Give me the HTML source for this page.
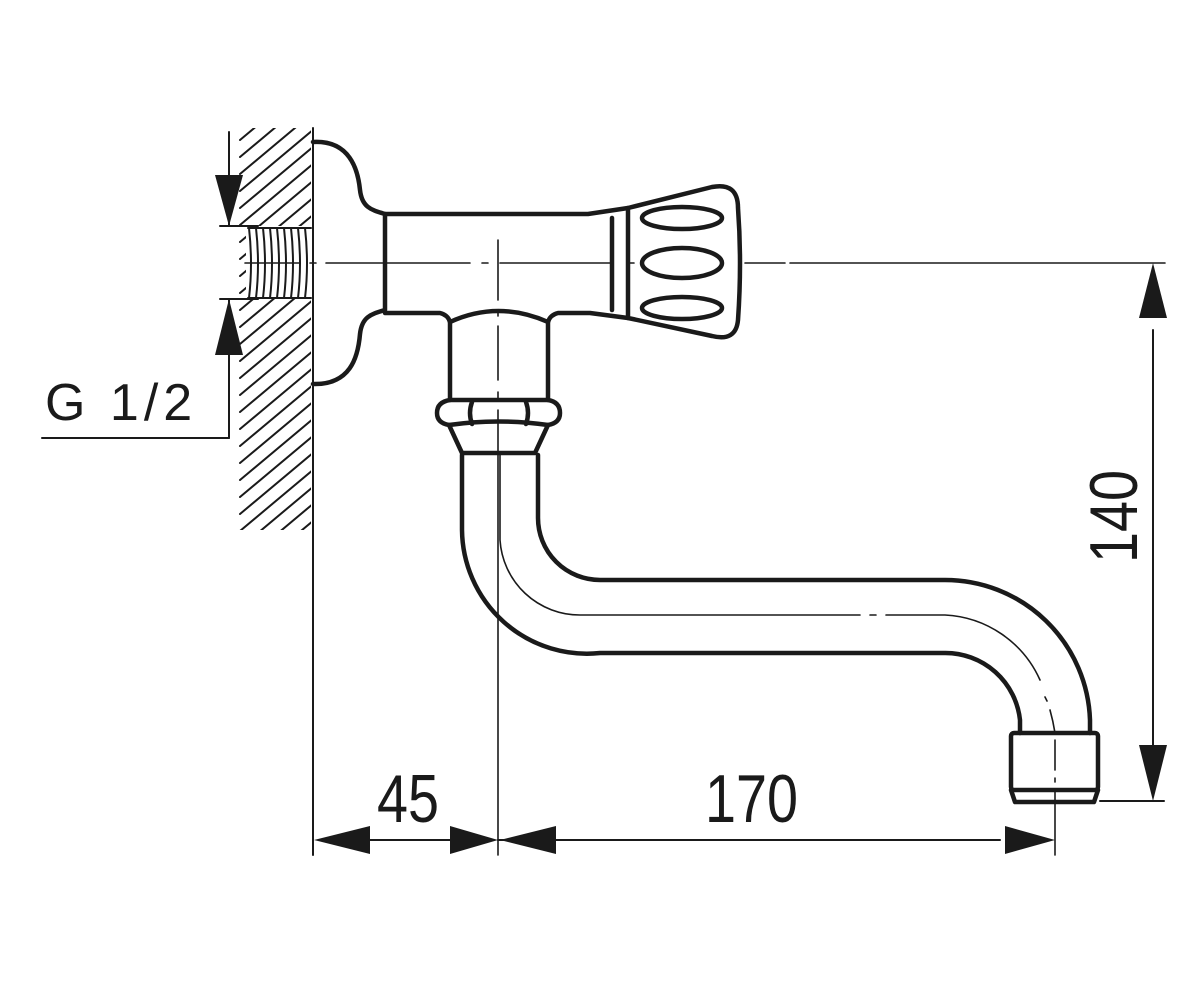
<!DOCTYPE html>
<html><head><meta charset="utf-8"><style>html,body{margin:0;padding:0;background:#fff}svg{display:block}</style></head>
<body>
<svg width="1190" height="1000" viewBox="0 0 1190 1000" xmlns="http://www.w3.org/2000/svg">
<defs>
<clipPath id="wc"><rect x="238" y="128" width="73" height="402"/></clipPath>
</defs>
<g fill="none" stroke="#1a1a1a" stroke-linecap="round" stroke-linejoin="round">
<!-- hatching -->
<g clip-path="url(#wc)" stroke-width="2">
<path d="M240 140 L320 73 M240 157 L320 90 M240 174 L320 107 M240 191 L320 124 M240 208 L320 141 M240 225 L320 158 M240 242 L320 175 M240 259 L320 192 M240 276 L320 209 M240 293 L320 226 M240 310 L320 243 M240 327 L320 260 M240 344 L320 277 M240 361 L320 294 M240 378 L320 311 M240 395 L320 328 M240 412 L320 345 M240 429 L320 362 M240 446 L320 379 M240 463 L320 396 M240 480 L320 413 M240 497 L320 430 M240 514 L320 447 M240 531 L320 464 M240 548 L320 481 M240 565 L320 498 M240 582 L320 515 M240 599 L320 532"/>
</g>
<!-- wall line -->
<line x1="313" y1="128" x2="313" y2="855" stroke-width="2"/>
<!-- thread -->
<g stroke-width="2">
<rect x="246" y="226" width="66" height="72" fill="#fff" stroke="none"/>
<path d="M249 228 q4 36 0 70 M256 228 q4 36 0 70 M263 228 q4 36 0 70 M270 228 q4 36 0 70 M277 228 q4 36 0 70 M284 228 q4 36 0 70 M291 228 q4 36 0 70 M298 228 q4 36 0 70 M305 228 q4 36 0 70"/>
<path d="M248 228 L311 228 M248 298 L311 298"/>
</g>
<!-- G1/2 dimension -->
<g stroke-width="2">
<line x1="220" y1="226" x2="258" y2="226"/>
<line x1="220" y1="299" x2="258" y2="299"/>
<line x1="229" y1="132" x2="229" y2="226"/>
<line x1="229" y1="299" x2="229" y2="438"/>
<line x1="42" y1="438" x2="229" y2="438"/>
</g>
<!-- center lines -->
<g stroke-width="1.6">
<path d="M245 263 H300 M310 263 H316 M326 263 H470 M482 263 H488 M500 263 H612 M628 263 H634 M745 263 H785 M790 263 H1165" />
<path d="M498 240 V300 M498 310 V316 M498 326 V380 M498 392 V398 M498 410 V855"/>
<path d="M500 455 V540 A80 80 0 0 0 580 615 H860 M870 615 H876 M886 615 H945 A110 110 0 0 1 1040 680 M1045 697 L1047 701 M1050 710 A200 200 0 0 1 1055 733"/>
<path d="M1055 740 V770 M1055 778 V782 M1055 792 V855"/>
</g>
<!-- rosette -->
<path stroke-width="4.5" d="M313 142 C350 140 358 170 360 190 C362 208 372 210 385 214 V310 C372 314 362 316 360 334 C358 358 350 385 313 384"/>
<!-- body -->
<path stroke-width="4.5" d="M385 214 H588 L628 208 M385 313 H440 Q448 315 450 322 Q498 300 548 322 Q550 315 558 313 H590 L628 318"/>
<path stroke-width="4.5" d="M612 218 V310"/>
<path stroke-width="4.5" d="M450 322 V400 M548 322 V400"/>
<!-- handle -->
<path stroke-width="4.5" d="M628 208 L712 187 Q738 182 738 208 Q742 263 738 320 Q736 342 712 336 L628 318 Z"/>
<ellipse cx="682" cy="218" rx="40" ry="11" stroke-width="4.5"/>
<ellipse cx="682" cy="263" rx="40" ry="15" stroke-width="4.5"/>
<ellipse cx="682" cy="308" rx="40" ry="11" stroke-width="4.5"/>
<!-- nut -->
<path stroke-width="4.5" d="M450 400 H548 Q560 402 560 413 Q560 423 548 425 L535 453 H462 L449 425 Q437 423 437 413 Q437 402 450 400 Z"/>
<path stroke-width="4.5" d="M449 425 Q498 418 548 425 M472 402 Q468 413 472 424 M526 402 Q530 413 526 424"/>
<!-- spout -->
<path stroke-width="4.5" d="M462 455 V530 A125 125 0 0 0 600 653 H945 A75 75 0 0 1 1020 720 V733"/>
<path stroke-width="4.5" d="M538 455 V518 A62 62 0 0 0 600 580 H945 A145 145 0 0 1 1090 720 V733"/>
<!-- aerator -->
<rect x="1011" y="733" width="87" height="57" rx="3" stroke-width="4.5"/>
<path stroke-width="4.5" d="M1011 790 L1015 802 H1094 L1098 790"/>
<!-- dimensions -->
<g stroke-width="2">
<line x1="1100" y1="801" x2="1164" y2="801"/>
<line x1="1153" y1="330" x2="1153" y2="750"/>
<line x1="498" y1="840" x2="1000" y2="840"/>
<line x1="370" y1="840" x2="450" y2="840"/>
</g>
</g>
<g fill="#1a1a1a">
<polygon points="229,226 215,175 243,175"/>
<polygon points="229,299 215,355 243,355"/>
<polygon points="1153,263 1139,318 1167,318"/>
<polygon points="1153,801 1139,745 1167,745"/>
<polygon points="314,840 370,826 370,854"/>
<polygon points="498,840 450,826 450,854"/>
<polygon points="500,840 556,826 556,854"/>
<polygon points="1055,840 1005,826 1005,854"/>
</g>
<g font-family="'Liberation Sans', sans-serif" fill="#1a1a1a">
<text x="45" y="420" font-size="52" letter-spacing="5">G 1/2</text>
<text x="377" y="822" font-size="68" transform="translate(377 822) scale(0.82 1) translate(-377 -822)">45</text>
<text x="705" y="822" font-size="68" transform="translate(705 822) scale(0.82 1) translate(-705 -822)">170</text>
<text transform="translate(1137 563) rotate(-90) scale(0.82 1)" font-size="68">140</text>
</g>
</svg>
</body></html>
